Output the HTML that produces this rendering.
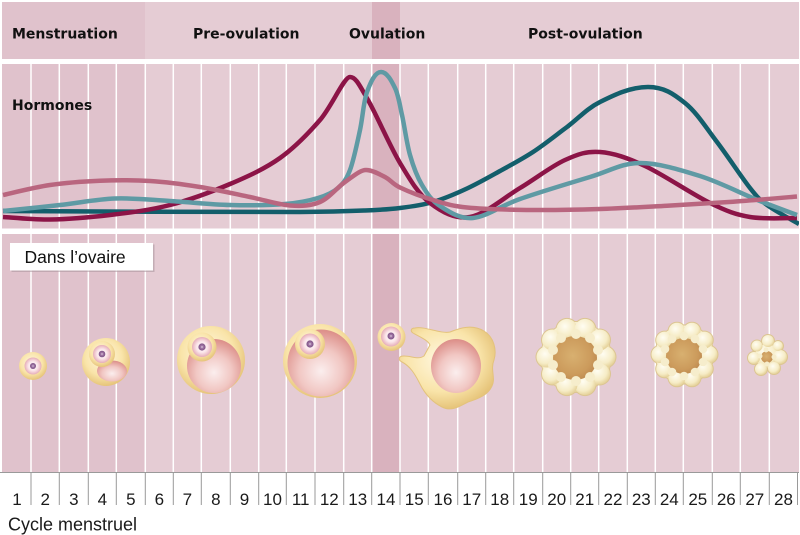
<!DOCTYPE html>
<html><head><meta charset="utf-8"><style>
html,body{margin:0;padding:0;background:#fff;}
svg{display:block;}
</style></head><body>
<svg width="800" height="535" viewBox="0 0 800 535" xmlns="http://www.w3.org/2000/svg">
<defs>
<radialGradient id="yel" cx="45%" cy="40%" r="60%"><stop offset="0" stop-color="#fff8e2"/><stop offset="0.65" stop-color="#f9e4a9"/><stop offset="1" stop-color="#e6c47a"/></radialGradient>
<radialGradient id="ant" cx="50%" cy="62%" r="60%"><stop offset="0" stop-color="#fbeeee"/><stop offset="0.55" stop-color="#f1c7c3"/><stop offset="1" stop-color="#dd918b"/></radialGradient>
<radialGradient id="egg"><stop offset="0" stop-color="#ffffff"/><stop offset="0.55" stop-color="#fbe6ea"/><stop offset="1" stop-color="#e6adb8"/></radialGradient>
<radialGradient id="nuc"><stop offset="0" stop-color="#eadcec"/><stop offset="0.35" stop-color="#a47aa8"/><stop offset="1" stop-color="#7b4f83"/></radialGradient>
<radialGradient id="cream" cx="40%" cy="35%" r="65%"><stop offset="0" stop-color="#fffdf2"/><stop offset="0.7" stop-color="#f6ecc6"/><stop offset="1" stop-color="#e6d39c"/></radialGradient>
<radialGradient id="brown" cx="45%" cy="45%" r="60%"><stop offset="0" stop-color="#d8b070"/><stop offset="0.7" stop-color="#cc9b5c"/><stop offset="1" stop-color="#bd8a50"/></radialGradient>
<clipPath id="hclip"><rect x="2" y="64" width="797" height="164.5"/></clipPath>
</defs>

<rect width="800" height="535" fill="#fff"/>

<!-- header -->
<rect x="2" y="2" width="797" height="57" fill="#e5ccd4"/>
<rect x="2" y="2" width="143" height="57" fill="#e0c2cc"/>
<rect x="372" y="2" width="28" height="57" fill="#d9b2be"/>

<!-- hormones panel -->
<rect x="2" y="64" width="797" height="164.5" fill="#e5ccd4"/>
<rect x="2" y="64" width="143" height="164.5" fill="#e0c2cc"/>
<rect x="372" y="64" width="28" height="164.5" fill="#d9b2be"/>

<!-- ovary panel -->
<rect x="2" y="234" width="797" height="238" fill="#e5ccd4"/>
<rect x="2" y="234" width="143" height="238" fill="#e0c2cc"/>
<rect x="372" y="234" width="28" height="238" fill="#d9b2be"/>

<!-- column lines -->
<g stroke="#ffffff" stroke-width="1.5">
<path d="M31,64V228.5M59.3,64V228.5M88.3,64V228.5M116.3,64V228.5M145.3,64V228.5M173.3,64V228.5M201.3,64V228.5M230.3,64V228.5M258.7,64V228.5M286.3,64V228.5M315,64V228.5M343.7,64V228.5M371.7,64V228.5M400,64V228.5M428.3,64V228.5M457.7,64V228.5M485.7,64V228.5M513.7,64V228.5M542.7,64V228.5M570.7,64V228.5M598.7,64V228.5M627.3,64V228.5M655.3,64V228.5M683.3,64V228.5M712.3,64V228.5M740.3,64V228.5M769.3,64V228.5"/>
<path d="M31,234V472M59.3,234V472M88.3,234V472M116.3,234V472M145.3,234V472M173.3,234V472M201.3,234V472M230.3,234V472M258.7,234V472M286.3,234V472M315,234V472M343.7,234V472M371.7,234V472M400,234V472M428.3,234V472M457.7,234V472M485.7,234V472M513.7,234V472M542.7,234V472M570.7,234V472M598.7,234V472M627.3,234V472M655.3,234V472M683.3,234V472M712.3,234V472M740.3,234V472M769.3,234V472"/>
</g>

<!-- axis row -->
<g stroke="#9a9a9a" stroke-width="1">
<path d="M0,472.5H799"/>
<path d="M31,472V505M59.3,472V505M88.3,472V505M116.3,472V505M145.3,472V505M173.3,472V505M201.3,472V505M230.3,472V505M258.7,472V505M286.3,472V505M315,472V505M343.7,472V505M371.7,472V505M400,472V505M428.3,472V505M457.7,472V505M485.7,472V505M513.7,472V505M542.7,472V505M570.7,472V505M598.7,472V505M627.3,472V505M655.3,472V505M683.3,472V505M712.3,472V505M740.3,472V505M769.3,472V505M797.5,472V505"/>
</g>
<g font-family="'Liberation Sans', Arial, sans-serif" font-size="17" fill="#1a1a1a" text-anchor="middle">
<text x="17" y="505">1</text><text x="45.2" y="505">2</text><text x="73.8" y="505">3</text><text x="102.3" y="505">4</text><text x="130.8" y="505">5</text><text x="159.3" y="505">6</text><text x="187.3" y="505">7</text><text x="215.8" y="505">8</text><text x="244.5" y="505">9</text><text x="272.5" y="505">10</text><text x="300.7" y="505">11</text><text x="329.3" y="505">12</text><text x="357.7" y="505">13</text><text x="386" y="505">14</text><text x="414.2" y="505">15</text><text x="443" y="505">16</text><text x="471.7" y="505">17</text><text x="499.7" y="505">18</text><text x="528.2" y="505">19</text><text x="556.7" y="505">20</text><text x="584.7" y="505">21</text><text x="613" y="505">22</text><text x="641.3" y="505">23</text><text x="669.3" y="505">24</text><text x="697.8" y="505">25</text><text x="726.3" y="505">26</text><text x="754.8" y="505">27</text><text x="783.5" y="505">28</text>
</g>
<text x="8" y="530.5" font-family="'Liberation Sans', Arial, sans-serif" font-size="18" fill="#1a1a1a">Cycle menstruel</text>

<!-- header labels -->
<g font-family="'DejaVu Sans', Verdana, sans-serif" font-weight="bold" font-size="14" fill="#111">
<text x="12" y="38.5">Menstruation</text>
<text x="193" y="38.5">Pre-ovulation</text>
<text x="349" y="38.5">Ovulation</text>
<text x="528" y="38.5">Post-ovulation</text>
<text x="12" y="110">Hormones</text>
</g>

<!-- hormone curves -->
<g clip-path="url(#hclip)" fill="none" stroke-width="4.5" stroke-linejoin="round">
<path stroke="#135e6b" d="M3,211 C60,211.5 240,212 300,212 C335.8,211.75 348.3,211.2 365,210.5 C381.7,209.8 388.7,209.4 400,208 C411.3,206.6 421.8,205.25 433,202 C444.2,198.75 455.8,193.7 467,188.5 C478.2,183.3 489,177.1 500,171 C511,164.9 521.8,159.3 533,152 C544.2,144.7 555.8,135.3 567,127 C578.2,118.7 586.5,108.7 600,102 C613.5,95.3 630,87 648,87 C664,87 673.5,93.8 685,103 C696.5,112.2 706.2,127.8 717,142 C727.8,156.2 741.7,177.5 750,188 C758.3,198.5 759.2,199.2 767,205 C774.8,210.8 792,220 799,224"/>
<path stroke="#8c1447" d="M3,217 C10.8,217.4 32.2,219.8 50,219.5 C67.8,219.2 90,217.4 110,215 C130,212.6 150,210.2 170,205 C190,199.8 211.7,191.8 230,184 C248.3,176.2 265,168.7 280,158 C295,147.3 308.3,133.5 320,120 C331.7,106.5 344,77 350,77 C356,77 359.7,85.7 368,100 C376.3,114.3 389.7,145.8 400,163 C410.3,180.2 418.3,194 430,203 C441.7,212 455,219.5 470,217 C485,214.5 504.2,197.5 520,188 C535.8,178.5 551.7,166 565,160 C578.3,154 586.7,151 600,152 C613.3,153 626.7,157.5 645,166 C663.3,174.5 692.5,194.5 710,203 C727.5,211.5 735.5,214.5 750,217 C764.5,219.5 789.2,217.8 797,218"/>
<path stroke="#5f9aa4" d="M3,211 C12.5,210 41.3,207.1 60,205 C78.7,202.9 96.7,199.2 115,198.5 C133.3,197.8 150.8,199.9 170,201 C189.2,202.1 210.8,204.5 230,205 C249.2,205.5 270.3,205.2 285,204 C299.7,202.8 309.2,200.7 318,198 C326.8,195.3 332.7,192.7 338,188 C343.3,183.3 346.3,179.7 350,170 C353.7,160.3 357.2,143 360,130 C362.8,117 363.5,101.7 367,92 C370.5,82.3 375,72 381,72 C387,72 391.5,80.8 395,88 C398.5,95.2 399.5,103.8 402,115 C404.5,126.2 406.7,143.3 410,155 C413.3,166.7 417,176.5 422,185 C427,193.5 431.5,200.5 440,206 C448.5,211.5 459.7,219.2 473,218 C486.3,216.8 500.5,205.8 520,199 C539.5,192.2 570,183 590,177 C610,171 621.7,163 640,163 C658.3,163 680,169.7 700,176 C720,182.3 743.8,194.7 760,201 C776.2,207.3 790.8,212.7 797,215"/>
<path stroke="#b9667f" d="M3,195 C10.8,193.3 33.8,187.4 50,185 C66.2,182.6 83.3,181.4 100,180.7 C116.7,180 133.3,180 150,181 C166.7,182 183.3,184.3 200,187 C216.7,189.7 235,193.9 250,197 C265,200.1 278.3,204.7 290,205.5 C301.7,206.3 310.8,205.9 320,202 C329.2,198.1 337.3,187.3 345,182 C352.7,176.7 360,170 366,170 C372,170 379.3,174.1 385,177 C390.7,179.9 392,183.7 400,187.5 C408,191.3 421.8,196.7 433,200 C444.2,203.3 450.3,205.8 467,207.5 C483.7,209.2 510.8,209.75 533,210 C555.2,210.25 577.7,209.7 600,209 C622.3,208.3 644.8,206.9 667,205.7 C689.2,204.5 711.3,203.2 733,201.7 C754.7,200.2 786.3,197.4 797,196.5"/>
</g>

<!-- Dans l'ovaire label -->
<rect x="11.5" y="244.5" width="143" height="27.5" fill="#a8939a" opacity="0.55"/>
<rect x="10" y="243" width="143" height="27.5" fill="#ffffff"/>
<text x="24.5" y="263" font-family="'Liberation Sans', Arial, sans-serif" font-size="17.5" fill="#111">Dans l’ovaire</text>

<!-- follicles -->
<!-- F1 -->
<circle cx="33" cy="366" r="14" fill="url(#yel)"/>
<circle cx="33" cy="366" r="8.5" fill="url(#egg)"/>
<circle cx="33" cy="366" r="3" fill="url(#nuc)"/>
<!-- F2 -->
<circle cx="106" cy="362" r="24" fill="url(#yel)"/>
<ellipse cx="112" cy="371" rx="15" ry="10.5" fill="url(#ant)"/>
<circle cx="102" cy="354" r="13" fill="url(#yel)"/>
<circle cx="102" cy="354" r="9" fill="url(#egg)"/>
<circle cx="102" cy="354" r="3.3" fill="url(#nuc)"/>
<!-- F3 -->
<circle cx="211" cy="360" r="34" fill="url(#yel)"/>
<circle cx="214" cy="366" r="27" fill="url(#ant)"/>
<circle cx="202" cy="347" r="14.5" fill="url(#yel)"/>
<circle cx="202" cy="347" r="10" fill="url(#egg)"/>
<circle cx="202" cy="347" r="3.6" fill="url(#nuc)"/>
<!-- F4 -->
<circle cx="320" cy="361" r="37" fill="url(#yel)"/>
<circle cx="321" cy="363" r="33.5" fill="url(#ant)"/>
<circle cx="310" cy="344" r="15" fill="url(#yel)"/>
<circle cx="310" cy="344" r="10.5" fill="url(#egg)"/>
<circle cx="310" cy="344" r="3.6" fill="url(#nuc)"/>
<!-- F5 -->
<circle cx="391.5" cy="337" r="14" fill="url(#yel)"/>
<circle cx="391" cy="336.5" r="10" fill="url(#egg)"/>
<circle cx="391" cy="336" r="3.5" fill="url(#nuc)"/>
<!-- F6 ruptured -->
<path fill="url(#yel)" stroke="#e3c27c" stroke-width="1" d="M415,328 C425,326 440,334 450,332 C460,328 472,324 484,331 C494,337 497,350 494,360 C490,370 496,378 492,386 C488,395 478,399 468,402 C460,406 452,412 442,407 C432,402 425,394 420,384 C415,374 410,366 402,362 C398,360 398,356 404,356 C412,356 418,360 424,356 L430,345 C428,340 418,336 413,333 C410,331 411,328 415,328 Z"/>
<ellipse cx="456" cy="366" rx="25" ry="27" fill="url(#ant)"/>
<!-- F7 corpus luteum -->
<g fill="#dcc592">
<circle cx="576" cy="357" r="36"/>
<circle cx="605" cy="357" r="11.5"/><circle cx="599.5" cy="374" r="11.5"/><circle cx="585" cy="384.6" r="11.5"/><circle cx="567" cy="384.6" r="11.5"/><circle cx="552.5" cy="374" r="11.5"/><circle cx="547" cy="357" r="11.5"/><circle cx="552.5" cy="340" r="11.5"/><circle cx="567" cy="329.4" r="11.5"/><circle cx="585" cy="329.4" r="11.5"/><circle cx="599.5" cy="340" r="11.5"/>
</g>
<g fill="url(#cream)">
<circle cx="576" cy="357" r="35"/>
<circle cx="605" cy="357" r="10.5"/><circle cx="599.5" cy="374" r="10.5"/><circle cx="585" cy="384.6" r="10.5"/><circle cx="567" cy="384.6" r="10.5"/><circle cx="552.5" cy="374" r="10.5"/><circle cx="547" cy="357" r="10.5"/><circle cx="552.5" cy="340" r="10.5"/><circle cx="567" cy="329.4" r="10.5"/><circle cx="585" cy="329.4" r="10.5"/><circle cx="599.5" cy="340" r="10.5"/>
</g>
<circle cx="575" cy="358" r="22" fill="url(#brown)"/>
<g fill="#f6edcc">
<circle cx="598" cy="365" r="5"/><circle cx="590" cy="377" r="5"/><circle cx="576" cy="381" r="5"/><circle cx="561" cy="377" r="5"/><circle cx="553" cy="365" r="5"/><circle cx="553" cy="350" r="5"/><circle cx="561" cy="338" r="5"/><circle cx="576" cy="334" r="5"/><circle cx="590" cy="338" r="5"/><circle cx="598" cy="350" r="5"/>
</g>
<!-- F8 -->
<g fill="#dcc592">
<circle cx="684.5" cy="354.5" r="30"/>
<circle cx="709" cy="354.5" r="9.5"/><circle cx="704.3" cy="368.9" r="9.5"/><circle cx="692" cy="377.8" r="9.5"/><circle cx="677" cy="377.8" r="9.5"/><circle cx="664.7" cy="368.9" r="9.5"/><circle cx="660" cy="354.5" r="9.5"/><circle cx="664.7" cy="340.1" r="9.5"/><circle cx="677" cy="331.2" r="9.5"/><circle cx="692" cy="331.2" r="9.5"/><circle cx="704.3" cy="340.1" r="9.5"/>
</g>
<g fill="url(#cream)">
<circle cx="684.5" cy="354.5" r="29"/>
<circle cx="709" cy="354.5" r="8.5"/><circle cx="704.3" cy="368.9" r="8.5"/><circle cx="692" cy="377.8" r="8.5"/><circle cx="677" cy="377.8" r="8.5"/><circle cx="664.7" cy="368.9" r="8.5"/><circle cx="660" cy="354.5" r="8.5"/><circle cx="664.7" cy="340.1" r="8.5"/><circle cx="677" cy="331.2" r="8.5"/><circle cx="692" cy="331.2" r="8.5"/><circle cx="704.3" cy="340.1" r="8.5"/>
</g>
<circle cx="684" cy="356" r="18" fill="url(#brown)"/>
<g fill="#f6edcc">
<circle cx="703" cy="362" r="4.3"/><circle cx="695" cy="372" r="4.3"/><circle cx="684" cy="376" r="4.3"/><circle cx="672" cy="372" r="4.3"/><circle cx="665" cy="362" r="4.3"/><circle cx="665" cy="349" r="4.3"/><circle cx="672" cy="339" r="4.3"/><circle cx="684" cy="336" r="4.3"/><circle cx="695" cy="339" r="4.3"/><circle cx="703" cy="349" r="4.3"/>
</g>
<!-- F9 -->
<g fill="#dcc592">
<circle cx="767" cy="356" r="13"/>
<circle cx="780" cy="357" r="8"/><circle cx="774" cy="368" r="7"/><circle cx="761" cy="369" r="7"/><circle cx="754" cy="358" r="7"/><circle cx="757" cy="346" r="6.5"/><circle cx="768" cy="341" r="7"/><circle cx="778" cy="346" r="6"/>
</g>
<g fill="url(#cream)">
<circle cx="767" cy="356" r="12"/>
<circle cx="780" cy="357" r="7"/><circle cx="774" cy="368" r="6"/><circle cx="761" cy="369" r="6"/><circle cx="754" cy="358" r="6"/><circle cx="757" cy="346" r="5.5"/><circle cx="768" cy="341" r="6"/><circle cx="778" cy="346" r="5"/>
</g>
<circle cx="767" cy="357" r="6" fill="url(#brown)"/>
<g fill="#f6edcc">
<circle cx="774" cy="357" r="2.5"/><circle cx="767" cy="364" r="2.5"/><circle cx="760" cy="356" r="2.5"/><circle cx="766" cy="350" r="2.5"/>
</g>
</svg>
</body></html>
